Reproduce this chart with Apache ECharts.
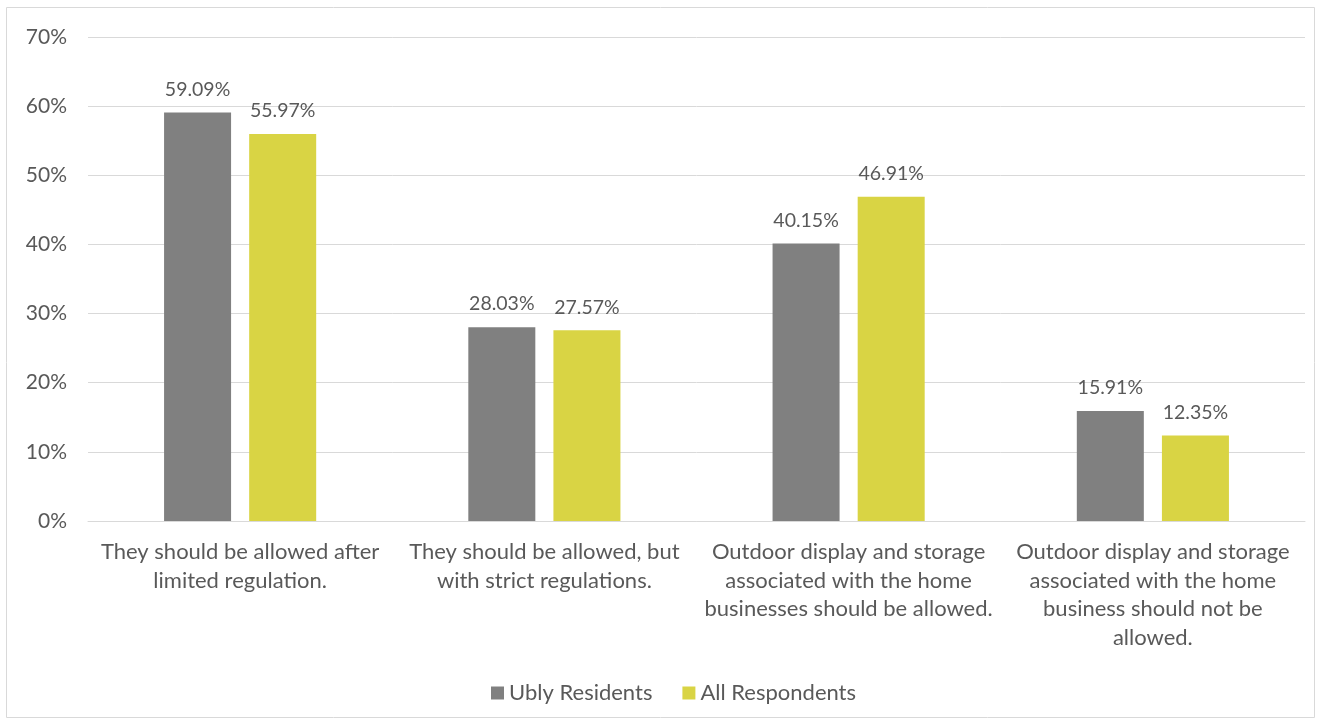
<!DOCTYPE html>
<html><head><meta charset="utf-8">
<script src="https://cdn.jsdelivr.net/npm/echarts@6/dist/echarts.min.js"></script>
<style>html,body{margin:0;padding:0;background:#fff}#c{width:1321px;height:724px}</style>
</head><body><div id="c"></div>
<script>
const categories = [
  "They should be allowed after\nlimited regulation.",
  "They should be allowed, but\nwith strict regulations.",
  "Outdoor display and storage\nassociated with the home\nbusinesses should be allowed.",
  "Outdoor display and storage\nassociated with the home\nbusiness should not be\nallowed."
];
const seriesNames = ["Ubly Residents", "All Respondents"];
const ublyResidents = [59.09, 28.03, 40.15, 15.91];
const allRespondents = [55.97, 27.57, 46.91, 12.35];
const colors = ["#808080", "#d9d444"];
const font = "Lato, 'Open Sans', sans-serif";
const txt = "#595959";

const chart = echarts.init(document.getElementById('c'), null, {renderer: 'canvas'});
const lbl = {show: true, position: 'top', distance: 13, color: txt, fontSize: 19.5, fontFamily: font,
  formatter: p => p.value.toFixed(2) + '%'};
chart.setOption({
  animation: false,
  graphic: [{type: 'rect', shape: {x: 6.5, y: 7.5, width: 1308, height: 710}, style: {fill: 'none', stroke: '#d9d9d9', lineWidth: 1}, z: -1}],
  grid: {left: 88, right: 16, top: 37, bottom: 203},
  legend: {left: 486, top: 677, itemWidth: 13, itemHeight: 13, itemGap: 30, icon: 'rect',
    textStyle: {color: txt, fontSize: 22, fontFamily: font}, data: seriesNames},
  xAxis: {type: 'category', data: categories,
    axisLine: {lineStyle: {color: '#d9d9d9', width: 1}}, axisTick: {show: false},
    axisLabel: {color: txt, fontSize: 22, fontFamily: font, lineHeight: 28.5, margin: 17, interval: 0}},
  yAxis: {type: 'value', min: 0, max: 70, interval: 10,
    axisLabel: {formatter: '{value}%', color: txt, fontSize: 21, fontFamily: font, margin: 21},
    axisLine: {show: false}, axisTick: {show: false},
    splitLine: {lineStyle: {color: '#d9d9d9', width: 1}}},
  series: [
    {name: seriesNames[0], type: 'bar', data: ublyResidents, itemStyle: {color: colors[0]}, barGap: '27%', barCategoryGap: '50%', label: lbl},
    {name: seriesNames[1], type: 'bar', data: allRespondents, itemStyle: {color: colors[1]}, label: lbl}
  ]
});
</script></body></html>
